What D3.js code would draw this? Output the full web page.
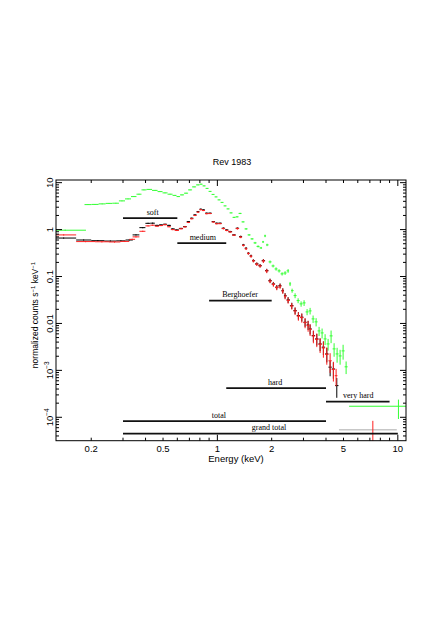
<!DOCTYPE html>
<html>
<head>
<meta charset="utf-8">
<title>Rev 1983</title>
<script src="https://cdnjs.cloudflare.com/ajax/libs/d3/7.8.5/d3.min.js"></script>
<style>
  body { margin: 0; background: #fff; }
  svg { display: block; }
  .lbl { font-family: "Liberation Sans", Arial, sans-serif; fill: #000; }
  .band-label { font-family: "Liberation Serif", "Times New Roman", serif; font-size: 8px; fill: #000; }
</style>
</head>
<body>
<div id="chart"></div>
<script>
// spectra: [energy keV, normalized counts, fractional error]
var greenWide = [[0.11, 0.187, 0.97, 0.03]];
var greenPts = [
  [0.192,3.41,.02],[0.210,3.44,.02],[0.230,3.53,.02],[0.251,3.62,.02],[0.274,3.65,.02],
  [0.296,4.09,.02],[0.320,4.51,.02],[0.345,5.05,.02],[0.368,5.68,.02],[0.392,7.02,.02],
  [0.418,7.19,.02],[0.452,6.85,.02],[0.481,6.45,.02],[0.513,6.06,.02],[0.547,5.68,.02],
  [0.583,5.36,.02],[0.605,5.05,.02],[0.637,5.49,.02],[0.671,5.97,.02],[0.706,7.02,.02],
  [0.743,8.13,.02],[0.782,8.97,.02],[0.812,9.28,.02],[0.844,8.54,.02],[0.877,7.55,.02],
  [0.911,6.52,.02],[0.947,5.62,.02],[0.983,4.98,.02],[1.022,4.30,.02],[1.062,3.80,.02],
  [1.103,3.20,.02],[1.146,2.76,.02],[1.191,2.27,.025],[1.238,1.82,.03],[1.286,1.87,.03],
  [1.336,2.21,.03],[1.388,1.46,.03],[1.443,1.035,.04],[1.499,0.771,.04],[1.557,0.634,.04],
  [1.618,0.521,.05],[1.681,0.438,.05],[1.747,0.407,.05],[1.792,0.547,.05],[1.838,0.734,.06],
  [1.886,0.472,.06],[1.959,0.205,.07],[2.036,0.168,.07],[2.115,0.145,.08],[2.198,0.132,.08],
  [2.284,0.114,.08],[2.373,0.119,.09],[2.466,0.132,.09],[2.529,0.0696,.1],[2.595,0.0501,.1],
  [2.696,0.0392,.12],[2.802,0.0307,.12],[2.911,0.0261,.13],[3.024,0.0274,.14],[3.142,0.0176,.15],
  [3.265,0.0185,.16],[3.392,0.0125,.18],[3.525,0.0108,.2],[3.662,0.00693,.22],[3.805,0.00628,.24],
  [3.954,0.00468,.26],[4.108,0.00366,.28],[4.268,0.00543,.3],[4.435,0.00287,.32],[4.608,0.00224,.35],
  [4.788,0.00203,.35],[4.975,0.0026,.35],[5.17,0.00119,.3]
];
// [E centre, E lo, E hi, value, value lo, value hi]
var greenHigh = [[10.08, 5.37, 13, 1.72e-4, 9.2e-5, 2.38e-4]];

var blackWide = [[0.12,0.165,0.66,.03],[0.165,0.20,0.60,.03],[0.20,0.237,0.58,.03],
  [0.237,0.275,0.57,.03],[0.275,0.31,0.575,.03],[0.31,0.34,0.60,.03]];
var blackPts = [
  [0.354,0.771,.03],[0.386,1.10,.03],[0.413,1.36,.03],[0.438,1.37,.03],[0.463,1.23,.03],
  [0.487,1.26,.03],[0.513,1.30,.03],[0.540,1.23,.03],[0.566,1.035,.03],[0.596,0.985,.03],
  [0.629,1.06,.03],[0.662,1.16,.03],[0.691,1.48,.03],[0.721,1.75,.03],[0.752,2.06,.03],
  [0.782,2.42,.03],[0.809,2.72,.03],[0.836,2.63,.03],[0.873,2.24,.03],[0.911,2.24,.03],
  [0.950,1.48,.03],[0.992,1.37,.03],[1.035,1.37,.03],[1.080,1.07,.04],[1.127,0.985,.04],
  [1.176,0.906,.04],[1.238,0.771,.04],[1.291,1.07,.04],[1.348,0.709,.05],[1.394,0.472,.05],
  [1.443,0.401,.05],[1.485,0.314,.06],[1.537,0.275,.06],[1.583,0.218,.07],[1.654,0.186,.07],
  [1.725,0.171,.08],[1.799,0.218,.08],[1.878,0.134,.09],[1.959,0.0818,.1],[2.044,0.0696,.1],
  [2.134,0.0592,.11],[2.226,0.064,.11],[2.305,0.0501,.12],[2.373,0.0392,.13],[2.466,0.0318,.14],
  [2.585,0.0240,.15],[2.696,0.0188,.16],[2.812,0.0147,.18],[2.937,0.0136,.19],[3.063,0.0106,.2],
  [3.183,0.0093,.22],[3.265,0.00765,.24],[3.405,0.00551,.26],[3.556,0.00468,.28],[3.710,0.00366,.3],
  [3.869,0.00312,.32],[4.041,0.00224,.34],[4.215,0.00117,.36],[4.395,0.00107,.38],[4.590,0.000473,.45]
];
var blackTail = [[4.72, 9.87, 5.4e-5]];

var redWide = [[0.12,0.165,0.77,.03],[0.165,0.21,0.555,.03],[0.21,0.25,0.55,.03],
  [0.25,0.29,0.545,.03],[0.29,0.325,0.56,.03],[0.325,0.35,0.62,.03]];
var redPts = [
  [0.354,0.70,.03],[0.386,0.92,.03],[0.413,1.20,.03],[0.438,1.24,.03],[0.463,1.18,.03],
  [0.487,1.22,.03],[0.513,1.27,.03],[0.540,1.15,.03],[0.566,1.00,.03],[0.596,0.96,.03],
  [0.629,1.04,.03],[0.662,1.14,.03],[0.691,1.42,.03],[0.721,1.70,.03],[0.752,2.00,.03],
  [0.782,2.35,.03],[0.809,2.65,.03],[0.836,2.55,.03],[0.873,2.18,.03],[0.911,2.20,.03],
  [0.950,1.45,.03],[0.992,1.33,.03],[1.035,1.34,.03],[1.080,1.05,.04],[1.127,0.96,.04],
  [1.176,0.89,.04],[1.238,0.76,.04],[1.291,1.05,.05],[1.348,0.69,.05],[1.394,0.46,.05],
  [1.443,0.39,.06],[1.485,0.31,.06],[1.537,0.27,.07],[1.583,0.215,.07],[1.654,0.183,.08],
  [1.725,0.168,.08],[1.799,0.214,.09],[1.878,0.131,.1],[1.959,0.080,.1],[2.044,0.068,.11],
  [2.134,0.058,.12],[2.226,0.062,.12],[2.305,0.049,.13],[2.373,0.038,.14],[2.466,0.031,.15],
  [2.585,0.0235,.16],[2.696,0.0184,.18],[2.812,0.0143,.2],[2.937,0.0133,.22],[3.063,0.0104,.24],
  [3.183,0.0090,.26],[3.265,0.0075,.28],[3.405,0.0054,.3],[3.556,0.0046,.32],[3.710,0.0036,.35],
  [3.869,0.0030,.38],[4.041,0.0022,.4],[4.215,0.0016,.45],[4.395,0.00105,.45],[4.55,0.00077,.4]
];
var redHigh = [[7.27, 7.0, 7.55, 4.5e-5, 1e-5, 8.4e-5]];

// energy bands: name, E lo, E hi, level, label at energy
var bandNames = ["soft", "medium", "Berghoefer", "hard", "very hard", "total", "grand total"];
var bandLo = [0.3, 0.6, 0.9, 1.12, 4.0, 0.3, 0.3];
var bandHi = [0.6, 1.12, 2.0, 4.0, 9.0, 4.0, 10];
var bandLevel = [1.75, 0.513, 0.0307, 4.17e-4, 2.16e-4, 8.25e-5, 4.49e-5];
var bandLabelAt = [0.438, 0.83, 1.336, 2.09, 6.03, 1.02, 1.934];

var xMinorTicks = [0.2,0.3,0.4,0.5,0.6,0.7,0.8,0.9,2,3,4,5,6,7,8,9];
var xMajorTicks = [1, 10];
var xTickLabels = [0.2, 0.5, 1, 2, 5, 10];
var yMajorTicks = [1e-4, 1e-3, 0.01, 0.1, 1, 10];
var yTickLabels = [["10", "\u22124"], ["10", "\u22123"], ["0.01"], ["0.1"], ["1"], ["10"]];

var svgWidth = 436, svgHeight = 617;
var pLeft = 56, pRight = 406, pTop = 180, pBottom = 440.7;

var svg = d3.select("#chart").append("svg")
  .attr("width", svgWidth)
  .attr("height", svgHeight);

var x = d3.scaleLog().domain([0.1276, 11.1]).range([pLeft, pRight]);
var y = d3.scaleLog().domain([3.17e-5, 11.4]).range([pBottom, pTop]);

svg.append("clipPath").attr("id", "clip")
  .append("rect")
  .attr("x", pLeft).attr("y", pTop)
  .attr("width", pRight - pLeft).attr("height", pBottom - pTop);

var plot = svg.append("g").attr("clip-path", "url(#clip)");

function seg(g, x1, y1, x2, y2, color, w) {
  g.append("line")
    .attr("x1", x1).attr("y1", y1).attr("x2", x2).attr("y2", y2)
    .attr("stroke", color).attr("stroke-width", w || 1);
}

function drawWide(rows, color) {
  rows.forEach(function(d) {
    seg(plot, x(d[0]), y(d[2]), x(d[1]), y(d[2]), color);
    var xm = x(Math.sqrt(d[0] * d[1]));
    seg(plot, xm, y(d[2] * (1 - d[3])), xm, y(d[2] * (1 + d[3])), color);
  });
}

function drawPoints(pts, color) {
  var n = pts.length;
  pts.forEach(function(p, i) {
    var rL = i > 0 ? p[0] / pts[i - 1][0] : pts[i + 1][0] / p[0];
    var rR = i < n - 1 ? pts[i + 1][0] / p[0] : rL;
    var lo = p[0] / Math.sqrt(rL), hi = p[0] * Math.sqrt(rR);
    seg(plot, x(lo), y(p[1]), x(hi), y(p[1]), color);
    seg(plot, x(p[0]), y(p[1] * (1 - p[2])), x(p[0]), y(p[1] * (1 + p[2])), color);
  });
}

function drawCross(rows, color) {
  rows.forEach(function(d) {
    seg(plot, x(d[1]), y(d[3]), x(d[2]), y(d[3]), color);
    seg(plot, x(d[0]), y(d[4]), x(d[0]), y(d[5]), color);
  });
}

var green = "#33ff33", red = "#ff2020";
drawWide(greenWide, green);
drawPoints(greenPts, green);
drawCross(greenHigh, green);

drawWide(blackWide, "#000");
drawPoints(blackPts, "#000");
blackTail.forEach(function(d) {
  seg(plot, x(d[0]), y(d[2]), x(d[1]), y(d[2]), "#aaa");
});

drawWide(redWide, red);
drawPoints(redPts, red);
drawCross(redHigh, red);

// band bars
bandNames.forEach(function(name, i) {
  seg(plot, x(bandLo[i]), y(bandLevel[i]), x(bandHi[i]), y(bandLevel[i]), "#111", 1.8);
  svg.append("text")
    .attr("class", "band-label")
    .attr("x", x(bandLabelAt[i]))
    .attr("y", y(bandLevel[i]) - 3.5)
    .attr("text-anchor", "middle")
    .text(name);
});

// frame
svg.append("rect")
  .attr("x", pLeft).attr("y", pTop)
  .attr("width", pRight - pLeft).attr("height", pBottom - pTop)
  .attr("fill", "none").attr("stroke", "#000").attr("stroke-width", 1);

// x ticks on bottom and top, pointing inward
var axes = svg.append("g");
function xTicks(vals, len) {
  vals.forEach(function(v) {
    seg(axes, x(v), pBottom, x(v), pBottom - len, "#000");
    seg(axes, x(v), pTop, x(v), pTop + len, "#000");
  });
}
xTicks(xMinorTicks, 3);
xTicks(xMajorTicks, 6);

// y ticks on left and right
var yMinor = [];
yMajorTicks.concat([1e-5]).forEach(function(dec) {
  for (var k = 2; k <= 9; k++) {
    var v = dec * k;
    if (v > y.domain()[0] && v < y.domain()[1]) yMinor.push(v);
  }
});
function yTicks(vals, len) {
  vals.forEach(function(v) {
    seg(axes, pLeft, y(v), pLeft + len, y(v), "#000");
    seg(axes, pRight, y(v), pRight - len, y(v), "#000");
  });
}
yTicks(yMinor, 3);
yTicks(yMajorTicks, 6);

// x tick labels
xTickLabels.forEach(function(v) {
  svg.append("text")
    .attr("class", "lbl")
    .attr("x", x(v)).attr("y", pBottom + 11)
    .attr("text-anchor", "middle")
    .style("font-size", "9.5px")
    .text(v);
});

// y tick labels, rotated
yMajorTicks.forEach(function(v, i) {
  var t = svg.append("text")
    .attr("class", "lbl")
    .attr("text-anchor", "middle")
    .attr("transform", "translate(52.5," + y(v) + ") rotate(-90)")
    .style("font-size", "9.5px");
  t.append("tspan").text(yTickLabels[i][0]);
  if (yTickLabels[i][1]) {
    t.append("tspan").attr("dy", -3.5).style("font-size", "6.5px").text(yTickLabels[i][1]);
  }
});

// titles
svg.append("text")
  .attr("class", "lbl")
  .attr("x", 232).attr("y", 165)
  .attr("text-anchor", "middle")
  .style("font-size", "9px")
  .text("Rev 1983");

svg.append("text")
  .attr("class", "lbl")
  .attr("x", 236).attr("y", 462)
  .attr("text-anchor", "middle")
  .style("font-size", "9.5px")
  .text("Energy (keV)");

var yt = svg.append("text")
  .attr("class", "lbl")
  .attr("text-anchor", "middle")
  .attr("transform", "translate(38,315) rotate(-90)")
  .style("font-size", "8.5px");
yt.append("tspan").text("normalized counts s");
yt.append("tspan").attr("dy", -3).style("font-size", "6px").text("\u22121");
yt.append("tspan").attr("dy", 3).text(" keV");
yt.append("tspan").attr("dy", -3).style("font-size", "6px").text("\u22121");
</script>
</body>
</html>
